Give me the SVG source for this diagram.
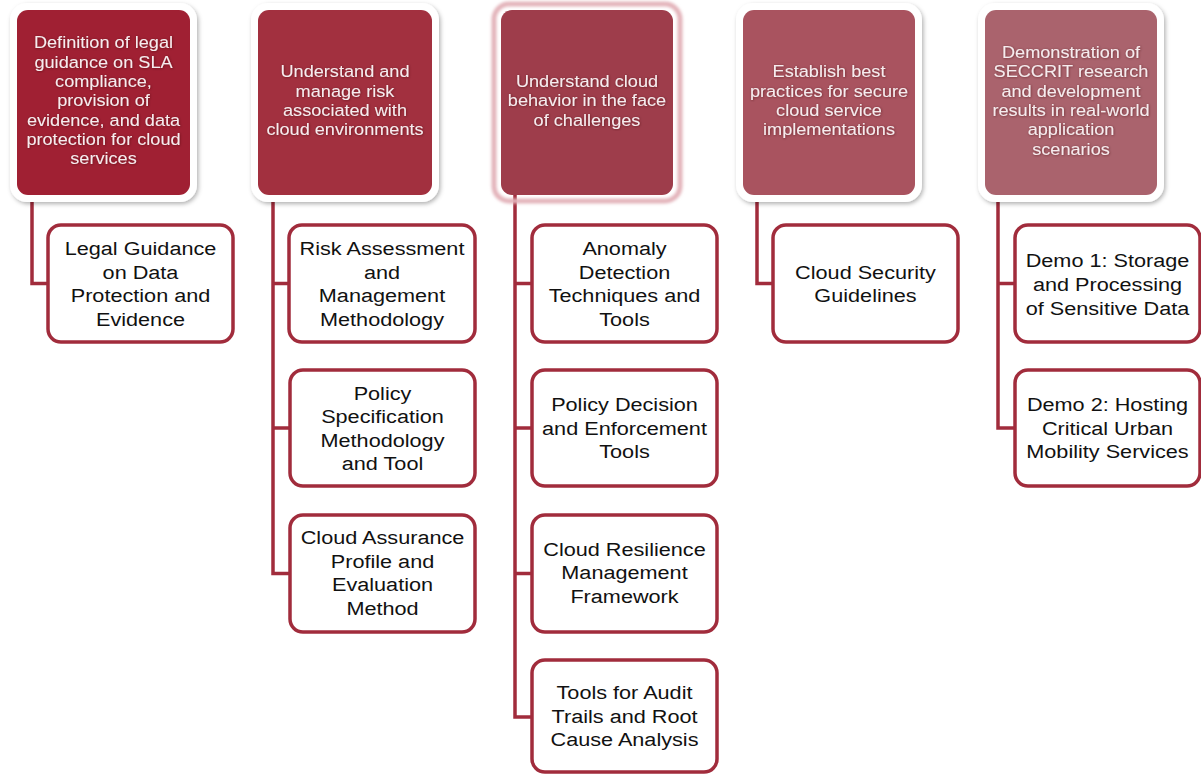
<svg xmlns="http://www.w3.org/2000/svg" width="1201" height="774" viewBox="0 0 1201 774">
  <defs>
    <filter id="frameShadow" x="-10%" y="-10%" width="125%" height="125%">
      <feDropShadow dx="1.5" dy="2" stdDeviation="2" flood-color="#000" flood-opacity="0.3"/>
    </filter>
    <filter id="textShadow" x="-5%" y="-5%" width="110%" height="110%">
      <feDropShadow dx="0.5" dy="0.5" stdDeviation="0.8" flood-color="#3a0a12" flood-opacity="0.55"/>
    </filter>
    <filter id="pinkGlow" x="-10%" y="-10%" width="120%" height="120%">
      <feGaussianBlur stdDeviation="1.5"/>
    </filter>
  </defs>
  <style>
    .frame { fill: #ffffff; filter: url(#frameShadow); }
    .head { stroke: none; }
    .htext { font-family: "Liberation Sans", Arial, sans-serif; font-size: 16.5px; fill: #f6ecee; text-anchor: middle; filter: url(#textShadow); }
    .child { fill: #ffffff; stroke: #a12c3c; stroke-width: 3.5; }
    .ctext { font-family: "Liberation Sans", Arial, sans-serif; font-size: 19px; fill: #111111; text-anchor: middle; }
    .link { fill: none; stroke: #a12c3c; stroke-width: 3.5; stroke-linejoin: miter; }
  </style>
  <rect width="1201" height="774" fill="#ffffff"/>

  <!-- tree connectors -->
  <g id="connectors">
    <path class="link" d="M32 195 V283.5 H48"/>
    <path class="link" d="M273 195 V573.5 H289 M273 283.5 H289 M273 428 H289"/>
    <path class="link" d="M515 195 V717 H532 M515 283.5 H532 M515 428 H532 M515 573.5 H532"/>
    <path class="link" d="M757 195 V283.5 H773"/>
    <path class="link" d="M998 195 V428 H1015 M998 283.5 H1015"/>
  </g>

  <!-- top-level objectives -->
  <g id="obj1">
    <rect class="frame" x="10" y="3" width="187" height="199" rx="17"/>
    <rect class="head" x="17" y="10" width="173" height="185" rx="11" fill="#a02033"/>
    <g transform="translate(103.5 0) scale(1.1 1)">
      <text class="htext" x="0" y="48.5">Definition of legal</text>
      <text class="htext" x="0" y="67.8">guidance on SLA</text>
      <text class="htext" x="0" y="87.1">compliance,</text>
      <text class="htext" x="0" y="106.4">provision of</text>
      <text class="htext" x="0" y="125.7">evidence, and data</text>
      <text class="htext" x="0" y="145">protection for cloud</text>
      <text class="htext" x="0" y="164.3">services</text>
    </g>
  </g>

  <g id="obj2">
    <rect class="frame" x="251" y="3" width="188" height="199" rx="17"/>
    <rect class="head" x="258" y="10" width="174" height="185" rx="11" fill="#a2303f"/>
    <g transform="translate(345 0) scale(1.1 1)">
      <text class="htext" x="0" y="77.5">Understand  and</text>
      <text class="htext" x="0" y="96.8">manage risk</text>
      <text class="htext" x="0" y="116.1">associated with</text>
      <text class="htext" x="0" y="135.4">cloud environments</text>
    </g>
  </g>

  <g id="obj3">
    <rect x="494" y="4" width="186" height="197" rx="15" fill="none" stroke="#e3b3ba" stroke-width="5" filter="url(#pinkGlow)"/>
    <rect class="head" x="501" y="10" width="172" height="185" rx="11" fill="#9e3d4b"/>
    <g transform="translate(587 0) scale(1.1 1)">
      <text class="htext" x="0" y="87.2">Understand  cloud</text>
      <text class="htext" x="0" y="106.5">behavior  in the face</text>
      <text class="htext" x="0" y="125.8">of challenges</text>
    </g>
  </g>

  <g id="obj4">
    <rect class="frame" x="736" y="3" width="186" height="199" rx="17"/>
    <rect class="head" x="743" y="10" width="172" height="185" rx="11" fill="#a9535f"/>
    <g transform="translate(829 0) scale(1.1 1)">
      <text class="htext" x="0" y="77.5">Establish  best</text>
      <text class="htext" x="0" y="96.8">practices for secure</text>
      <text class="htext" x="0" y="116.1">cloud service</text>
      <text class="htext" x="0" y="135.4">implementations</text>
    </g>
  </g>

  <g id="obj5">
    <rect class="frame" x="978" y="3" width="186" height="199" rx="17"/>
    <rect class="head" x="985" y="10" width="172" height="185" rx="11" fill="#aa636d"/>
    <g transform="translate(1071 0) scale(1.1 1)">
      <text class="htext" x="0" y="58.2">Demonstration  of</text>
      <text class="htext" x="0" y="77.5">SECCRIT  research</text>
      <text class="htext" x="0" y="96.8">and development</text>
      <text class="htext" x="0" y="116.1">results  in real-world</text>
      <text class="htext" x="0" y="135.4">application</text>
      <text class="htext" x="0" y="154.7">scenarios</text>
    </g>
  </g>

  <!-- work items -->
  <g id="legal-guidance">
    <rect class="child" x="48" y="225" width="185" height="117" rx="13"/>
    <g transform="translate(140.5 0) scale(1.14 1)">
      <text class="ctext" x="0" y="255.2">Legal Guidance</text>
      <text class="ctext" x="0" y="278.7">on Data</text>
      <text class="ctext" x="0" y="302.2">Protection and</text>
      <text class="ctext" x="0" y="325.7">Evidence</text>
    </g>
  </g>

  <g id="risk-assessment">
    <rect class="child" x="289" y="225" width="186" height="117" rx="13"/>
    <g transform="translate(382 0) scale(1.14 1)">
      <text class="ctext" x="0" y="255.2">Risk Assessment</text>
      <text class="ctext" x="0" y="278.7">and</text>
      <text class="ctext" x="0" y="302.2">Management</text>
      <text class="ctext" x="0" y="325.7">Methodology</text>
    </g>
  </g>

  <g id="policy-specification">
    <rect class="child" x="290" y="370" width="185" height="116" rx="13"/>
    <g transform="translate(382.5 0) scale(1.14 1)">
      <text class="ctext" x="0" y="399.7">Policy</text>
      <text class="ctext" x="0" y="423.2">Specification</text>
      <text class="ctext" x="0" y="446.7">Methodology</text>
      <text class="ctext" x="0" y="470.2">and Tool</text>
    </g>
  </g>

  <g id="cloud-assurance">
    <rect class="child" x="290" y="515" width="185" height="117" rx="13"/>
    <g transform="translate(382.5 0) scale(1.14 1)">
      <text class="ctext" x="0" y="544.2">Cloud Assurance</text>
      <text class="ctext" x="0" y="567.7">Profile and</text>
      <text class="ctext" x="0" y="591.2">Evaluation</text>
      <text class="ctext" x="0" y="614.7">Method</text>
    </g>
  </g>

  <g id="anomaly-detection">
    <rect class="child" x="532" y="225" width="185" height="117" rx="13"/>
    <g transform="translate(624.5 0) scale(1.14 1)">
      <text class="ctext" x="0" y="255.2">Anomaly</text>
      <text class="ctext" x="0" y="278.7">Detection</text>
      <text class="ctext" x="0" y="302.2">Techniques  and</text>
      <text class="ctext" x="0" y="325.7">Tools</text>
    </g>
  </g>

  <g id="policy-decision">
    <rect class="child" x="532" y="370" width="185" height="116" rx="13"/>
    <g transform="translate(624.5 0) scale(1.14 1)">
      <text class="ctext" x="0" y="411.5">Policy Decision</text>
      <text class="ctext" x="0" y="435">and Enforcement</text>
      <text class="ctext" x="0" y="458.5">Tools</text>
    </g>
  </g>

  <g id="cloud-resilience">
    <rect class="child" x="532" y="515" width="185" height="117" rx="13"/>
    <g transform="translate(624.5 0) scale(1.14 1)">
      <text class="ctext" x="0" y="556">Cloud Resilience</text>
      <text class="ctext" x="0" y="579.5">Management</text>
      <text class="ctext" x="0" y="603">Framework</text>
    </g>
  </g>

  <g id="audit-trails">
    <rect class="child" x="532" y="660" width="185" height="112" rx="13"/>
    <g transform="translate(624.5 0) scale(1.14 1)">
      <text class="ctext" x="0" y="699.5">Tools for Audit</text>
      <text class="ctext" x="0" y="723">Trails and Root</text>
      <text class="ctext" x="0" y="746.5">Cause Analysis</text>
    </g>
  </g>

  <g id="security-guidelines">
    <rect class="child" x="773" y="225" width="185" height="117" rx="13"/>
    <g transform="translate(865.5 0) scale(1.14 1)">
      <text class="ctext" x="0" y="279">Cloud  Security</text>
      <text class="ctext" x="0" y="302.5">Guidelines</text>
    </g>
  </g>

  <g id="demo1">
    <rect class="child" x="1015" y="225" width="185" height="117" rx="13"/>
    <g transform="translate(1107.5 0) scale(1.14 1)">
      <text class="ctext" x="0" y="267.5">Demo 1: Storage</text>
      <text class="ctext" x="0" y="291">and Processing</text>
      <text class="ctext" x="0" y="314.5">of Sensitive  Data</text>
    </g>
  </g>

  <g id="demo2">
    <rect class="child" x="1015" y="370" width="185" height="116" rx="13"/>
    <g transform="translate(1107.5 0) scale(1.14 1)">
      <text class="ctext" x="0" y="411.5">Demo 2: Hosting</text>
      <text class="ctext" x="0" y="435">Critical Urban</text>
      <text class="ctext" x="0" y="458.5">Mobility Services</text>
    </g>
  </g>
</svg>
